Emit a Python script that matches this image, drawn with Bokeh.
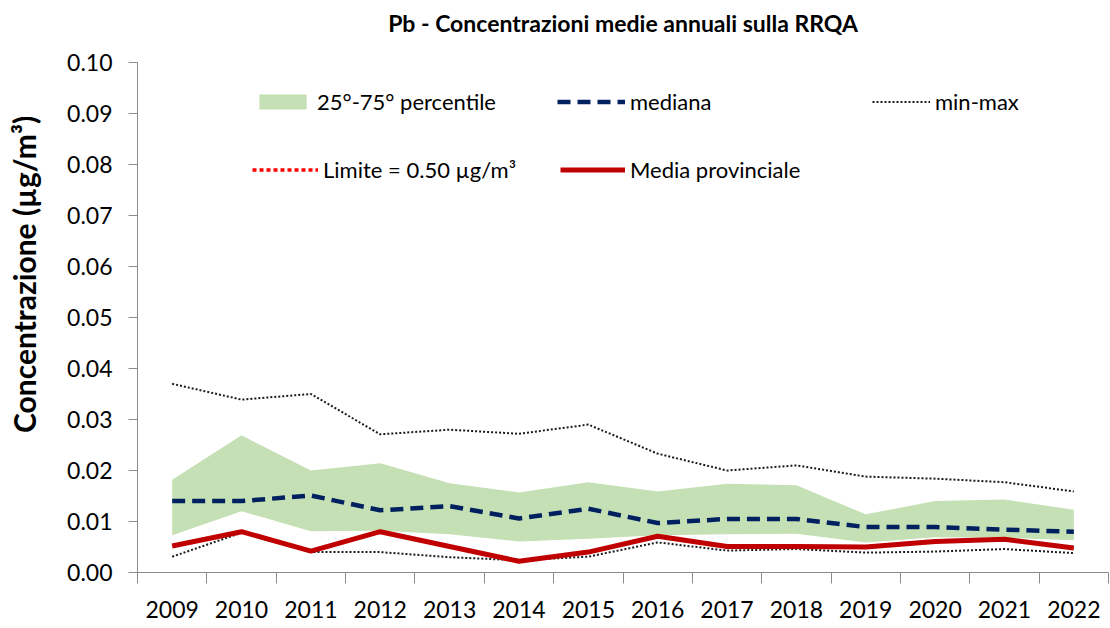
from bokeh.plotting import figure
from bokeh.models import Range1d, FixedTicker, Legend, LegendItem, ColumnDataSource, LinearAxis
from bokeh.embed import file_html
from bokeh.resources import INLINE

years = [2009, 2010, 2011, 2012, 2013, 2014, 2015, 2016, 2017, 2018, 2019, 2020, 2021, 2022]
p25 = [0.0073, 0.0120, 0.0081, 0.0082, 0.0075, 0.0061, 0.0066, 0.0073, 0.0075, 0.0076, 0.0059, 0.0069, 0.0068, 0.0063]
p75 = [0.0182, 0.0269, 0.0200, 0.0214, 0.0175, 0.0157, 0.0177, 0.0159, 0.0174, 0.0171, 0.0114, 0.0140, 0.0143, 0.0123]
mediana = [0.0140, 0.0140, 0.0151, 0.0122, 0.0130, 0.0106, 0.0125, 0.0097, 0.0105, 0.0105, 0.0089, 0.0089, 0.0084, 0.0080]
vmin = [0.0031, 0.0078, 0.0040, 0.0040, 0.0030, 0.0024, 0.0031, 0.0059, 0.0043, 0.0046, 0.0039, 0.0041, 0.0046, 0.0038]
vmax = [0.0370, 0.0339, 0.0350, 0.0271, 0.0280, 0.0272, 0.0290, 0.0233, 0.0200, 0.0210, 0.0188, 0.0184, 0.0177, 0.0159]
media_prov = [0.0052, 0.0080, 0.0042, 0.0080, 0.0051, 0.0022, 0.0040, 0.0071, 0.0051, 0.0051, 0.0050, 0.0061, 0.0065, 0.0048]
limite = 0.50
y_ticks = [0.00, 0.01, 0.02, 0.03, 0.04, 0.05, 0.06, 0.07, 0.08, 0.09, 0.10]

TITLE = "Pb - Concentrazioni medie annuali sulla RRQA"
Y_LABEL = "Concentrazione (µg/m³)"
FONT = "Lato"

src = ColumnDataSource(dict(x=years, p25=p25, p75=p75, med=mediana, mn=vmin, mx=vmax, mp=media_prov,
                            lim=[limite] * len(years)))

p = figure(width=1110, height=628, output_backend="svg", toolbar_location=None,
           x_range=Range1d(years[0] - 0.5, years[-1] + 0.5), y_range=Range1d(0, 0.10),
           min_border_left=137, min_border_right=2, min_border_top=62, min_border_bottom=56)
p.outline_line_color = None
p.xgrid.visible = False
p.ygrid.visible = False
p.background_fill_color = "white"

band = p.varea(x="x", y1="p25", y2="p75", source=src, fill_color="#C5E0B4")
r_mx = p.line(x="x", y="mx", source=src, line_color="#1a1a1a", line_width=2, line_dash="2 2")
r_mn = p.line(x="x", y="mn", source=src, line_color="#1a1a1a", line_width=2, line_dash="2 2")
r_med = p.line(x="x", y="med", source=src, line_color="#002060", line_width=4.5, line_dash="13 7")
r_mp = p.line(x="x", y="mp", source=src, line_color="#C00000", line_width=5)
r_lim = p.line(x="x", y="lim", source=src, line_color="#FF0000", line_width=3.5, line_dash="4 3")

# axes
xa = p.xaxis[0]
xa.ticker = FixedTicker(ticks=years, minor_ticks=[y - 0.5 for y in years] + [years[-1] + 0.5])
xa.major_label_overrides = {y: str(y) for y in years}
xa.major_tick_line_color = None
xa.major_tick_out = 0
xa.major_tick_in = 0
xa.minor_tick_out = 11
xa.minor_tick_in = 0
xa.minor_tick_line_color = "#8c8c8c"
xa.axis_line_color = "#8c8c8c"
xa.major_label_standoff = 17
xa.major_label_text_font = FONT
xa.major_label_text_font_size = "23px"
xa.major_label_text_color = "black"

ya = p.yaxis[0]
ya.ticker = FixedTicker(ticks=y_ticks, minor_ticks=[])
ya.major_label_overrides = {t: f"{t:.2f}" for t in y_ticks}
ya.major_tick_out = 9
ya.major_tick_in = 0
ya.major_tick_line_color = "#8c8c8c"
ya.axis_line_color = "#8c8c8c"
ya.minor_tick_line_color = None
ya.major_label_standoff = 16
ya.major_label_text_font = FONT
ya.major_label_text_font_size = "23px"
ya.major_label_text_color = "black"


def label_axis(text, size, standoff):
    ax = LinearAxis(ticker=FixedTicker(ticks=[], minor_ticks=[]),
                    axis_line_color=None, major_tick_line_color=None, minor_tick_line_color=None,
                    major_tick_out=0, major_tick_in=0, minor_tick_out=0, minor_tick_in=0,
                    major_label_standoff=0, axis_label=text, axis_label_standoff=standoff,
                    axis_label_text_font=FONT, axis_label_text_font_size=size,
                    axis_label_text_font_style="bold", axis_label_text_color="black")
    return ax


# title as an axis label above the frame
p.add_layout(label_axis(TITLE, "23px", 26), "above")
# y-axis title; leading em/en spaces lift its visible centre above the frame centre, as in the reference
p.add_layout(label_axis("\u2003\u2003\u2003\u2002\u2009" + Y_LABEL, "30px", 23), "left")


def add_leg(label, r, x, y, gw):
    lg = Legend(items=[LegendItem(label=label, renderers=[r])], location=(x, y),
                glyph_width=gw, glyph_height=19, label_height=20, label_standoff=5,
                padding=0, margin=0, spacing=0, border_line_color=None,
                background_fill_alpha=0, label_text_font=FONT, label_text_font_size="22px",
                label_text_color="black")
    p.add_layout(lg, "center")


add_leg("25°-75° percentile", band, 116, 457, 59)
add_leg("mediana", r_med, 420, 457, 68)
add_leg("min-max", r_mx, 735, 457, 58)
add_leg("Limite = 0.50 µg/m³", r_lim, 115, 389, 66)
add_leg("Media provinciale", r_mp, 423, 389, 65)

open("out.html", "w").write(file_html(p, INLINE))
